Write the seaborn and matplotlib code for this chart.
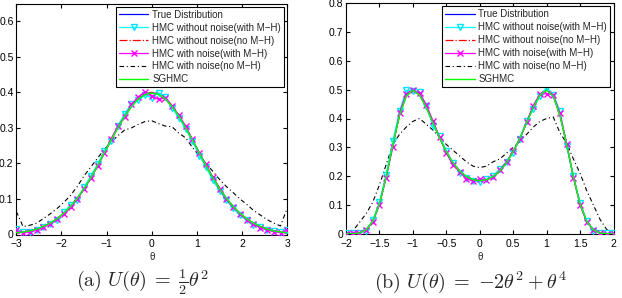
import numpy as np
import pandas as pd
import matplotlib
matplotlib.use("Agg")
import matplotlib.pyplot as plt
import seaborn as sns

sns.set_style("ticks")
plt.rcParams['font.family'] = ['Liberation Sans', 'DejaVu Sans']
plt.rcParams['mathtext.fontset'] = 'cm'
plt.rcParams['axes.unicode_minus'] = True

labels = ["True Distribution", "HMC without noise(with M\u2212H)", "HMC without noise(no M\u2212H)",
          "HMC with noise(with M\u2212H)", "HMC with noise(no M\u2212H)", "SGHMC"]

# ---- panel (a) ----
theta_a = [-3.0, -2.85, -2.7, -2.55, -2.4, -2.25, -2.1, -1.95, -1.8, -1.65, -1.5, -1.35, -1.2, -1.05,
           -0.9, -0.75, -0.6, -0.45, -0.3, -0.15, 0.0, 0.15, 0.3, 0.45, 0.6, 0.75, 0.9, 1.05, 1.2,
           1.35, 1.5, 1.65, 1.8, 1.95, 2.1, 2.25, 2.4, 2.55, 2.7, 2.85, 3.0]
true_a = [0.004, 0.007, 0.010, 0.015, 0.022, 0.032, 0.044, 0.060, 0.079, 0.102, 0.130, 0.160, 0.194, 0.230,
          0.266, 0.301, 0.333, 0.361, 0.381, 0.395, 0.399, 0.395, 0.381, 0.361, 0.333, 0.301, 0.266, 0.230,
          0.194, 0.160, 0.130, 0.102, 0.079, 0.060, 0.044, 0.032, 0.022, 0.015, 0.010, 0.007, 0.004]
hmc_mh_a = [0.016, 0.006, 0.008, 0.013, 0.020, 0.030, 0.041, 0.062, 0.083, 0.098, 0.133, 0.165, 0.198, 0.236,
            0.262, 0.306, 0.340, 0.368, 0.378, 0.392, 0.385, 0.398, 0.388, 0.356, 0.328, 0.296, 0.262, 0.222,
            0.190, 0.152, 0.123, 0.096, 0.074, 0.055, 0.040, 0.028, 0.020, 0.012, 0.009, 0.006, 0.014]
hmc_nomh_a = [0.005, 0.006, 0.010, 0.016, 0.023, 0.031, 0.045, 0.059, 0.080, 0.103, 0.128, 0.161, 0.195, 0.231,
              0.264, 0.303, 0.335, 0.360, 0.383, 0.397, 0.400, 0.398, 0.386, 0.362, 0.331, 0.302, 0.265, 0.231,
              0.193, 0.161, 0.131, 0.101, 0.080, 0.059, 0.045, 0.031, 0.023, 0.016, 0.010, 0.006, 0.005]
noise_mh_a = [0.012, 0.004, 0.007, 0.012, 0.021, 0.029, 0.045, 0.057, 0.076, 0.100, 0.127, 0.158, 0.192, 0.228,
              0.270, 0.305, 0.331, 0.366, 0.387, 0.402, 0.390, 0.380, 0.385, 0.362, 0.336, 0.305, 0.268, 0.228,
              0.197, 0.162, 0.128, 0.099, 0.078, 0.058, 0.042, 0.030, 0.019, 0.013, 0.008, 0.005, 0.012]
noise_nomh_a = [0.065, 0.022, 0.026, 0.032, 0.045, 0.058, 0.073, 0.090, 0.110, 0.135, 0.165, 0.190, 0.215, 0.240,
                0.260, 0.278, 0.294, 0.300, 0.310, 0.318, 0.320, 0.312, 0.305, 0.303, 0.285, 0.272, 0.245, 0.222,
                0.200, 0.178, 0.155, 0.135, 0.118, 0.100, 0.085, 0.068, 0.055, 0.042, 0.032, 0.024, 0.075]
sghmc_a = [0.005, 0.007, 0.010, 0.015, 0.023, 0.032, 0.044, 0.060, 0.079, 0.102, 0.129, 0.160, 0.194, 0.230,
           0.266, 0.300, 0.333, 0.360, 0.381, 0.394, 0.398, 0.394, 0.381, 0.360, 0.333, 0.300, 0.266, 0.230,
           0.194, 0.160, 0.129, 0.102, 0.079, 0.060, 0.044, 0.032, 0.023, 0.015, 0.010, 0.007, 0.005]

# ---- panel (b) ----
theta_b = [-2.0, -1.9, -1.8, -1.7, -1.6, -1.5, -1.4, -1.3, -1.2, -1.1, -1.0, -0.9, -0.8, -0.7, -0.6, -0.5,
           -0.4, -0.3, -0.2, -0.1, 0.0, 0.1, 0.2, 0.3, 0.4, 0.5, 0.6, 0.7, 0.8, 0.9, 1.0, 1.1, 1.2, 1.3,
           1.4, 1.5, 1.6, 1.7, 1.8, 1.9, 2.0]
true_b = [0.000, 0.001, 0.003, 0.014, 0.044, 0.105, 0.199, 0.310, 0.412, 0.478, 0.500, 0.482, 0.439, 0.385,
          0.332, 0.285, 0.247, 0.218, 0.199, 0.188, 0.184, 0.188, 0.199, 0.218, 0.247, 0.285, 0.332, 0.385,
          0.439, 0.482, 0.500, 0.478, 0.412, 0.310, 0.199, 0.105, 0.044, 0.014, 0.003, 0.001, 0.000]
hmc_mh_b = [0.002, 0.002, 0.004, 0.012, 0.047, 0.110, 0.205, 0.322, 0.425, 0.498, 0.495, 0.493, 0.445, 0.375,
            0.340, 0.288, 0.245, 0.212, 0.195, 0.185, 0.180, 0.190, 0.202, 0.225, 0.250, 0.282, 0.330, 0.392,
            0.432, 0.478, 0.508, 0.483, 0.425, 0.305, 0.200, 0.108, 0.046, 0.012, 0.004, 0.002, 0.003]
hmc_nomh_b = [0.000, 0.001, 0.004, 0.015, 0.045, 0.103, 0.201, 0.312, 0.410, 0.480, 0.502, 0.480, 0.442, 0.388,
              0.335, 0.283, 0.246, 0.220, 0.197, 0.190, 0.186, 0.187, 0.201, 0.216, 0.249, 0.286, 0.330, 0.387,
              0.440, 0.484, 0.497, 0.480, 0.410, 0.312, 0.198, 0.106, 0.043, 0.015, 0.004, 0.001, 0.000]
noise_mh_b = [0.001, 0.002, 0.005, 0.015, 0.042, 0.100, 0.195, 0.300, 0.420, 0.485, 0.498, 0.488, 0.448, 0.392,
              0.335, 0.280, 0.240, 0.215, 0.192, 0.183, 0.190, 0.186, 0.196, 0.222, 0.250, 0.288, 0.328, 0.388,
              0.445, 0.485, 0.486, 0.482, 0.418, 0.312, 0.195, 0.100, 0.040, 0.015, 0.004, 0.001, 0.001]
noise_nomh_b = [0.000, 0.010, 0.040, 0.070, 0.110, 0.170, 0.240, 0.310, 0.345, 0.370, 0.390, 0.400, 0.380, 0.360,
                0.335, 0.310, 0.290, 0.270, 0.250, 0.235, 0.230, 0.235, 0.250, 0.260, 0.280, 0.300, 0.320, 0.345,
                0.370, 0.390, 0.400, 0.405, 0.350, 0.315, 0.260, 0.210, 0.150, 0.100, 0.050, 0.015, 0.000]
sghmc_b = [0.000, 0.001, 0.003, 0.014, 0.044, 0.104, 0.198, 0.308, 0.410, 0.477, 0.498, 0.481, 0.438, 0.385,
           0.332, 0.285, 0.247, 0.218, 0.199, 0.188, 0.185, 0.188, 0.199, 0.218, 0.247, 0.285, 0.332, 0.385,
           0.438, 0.481, 0.498, 0.477, 0.410, 0.308, 0.198, 0.104, 0.044, 0.014, 0.003, 0.001, 0.000]

styles = [
    dict(color="#0000ff", linestyle="-", lw=0.9, zorder=2),
    dict(color="#00ffff", linestyle="-", lw=0.9, marker="v", markersize=5.0, markerfacecolor="none",
         markeredgecolor="#00e5ff", markeredgewidth=1.0, zorder=3),
    dict(color="#ff0000", linestyle="-.", lw=0.9, zorder=2.5),
    dict(color="#ff00ff", linestyle="-", lw=0.9, marker="x", markersize=4.0, markeredgecolor="#ff00ff",
         markeredgewidth=1.0, zorder=3.2),
    dict(color="#000000", linestyle=(0, (4, 2.5, 1, 2.5)), lw=0.8, zorder=2.6),
    dict(color="#00ff00", linestyle="-", lw=1.0, zorder=3.5),
]

fig = plt.figure(figsize=(6.22, 2.98), dpi=100)
ax_a = fig.add_axes([16.3 / 622, 1 - 234.5 / 298, (287.3 - 16.3) / 622, (234.5 - 3.5) / 298])
ax_b = fig.add_axes([346 / 622, 1 - 234 / 298, (613.5 - 346) / 622, (234 - 3) / 298])


def draw(ax, x, series, xlim, ylim, xticks, yticks, xticklabels, yticklabels):
    df = pd.DataFrame({"theta": x})
    handles = []
    for name, vals, st in zip(labels, series, styles):
        df[name] = vals
        sns.lineplot(data=df, x="theta", y=name, ax=ax, estimator=None, sort=False, **st)
        handles.append(ax.get_lines()[-1])
    ax.set_xlim(*xlim)
    ax.set_ylim(*ylim)
    ax.set_xticks(xticks)
    ax.set_xticklabels(xticklabels)
    ax.set_yticks(yticks)
    ax.set_yticklabels(yticklabels)
    ax.set_xlabel("\u03b8", fontsize=7, labelpad=2)
    ax.set_ylabel("")
    ax.tick_params(direction="in", length=3, width=0.8, labelsize=7.5, pad=2,
                   top=True, right=True, colors="black")
    ax.tick_params(axis="x", pad=3.5)
    for s in ax.spines.values():
        s.set_visible(True)
        s.set_linewidth(0.8)
        s.set_color("black")
    leg = ax.legend(handles, labels, loc="upper right", fontsize=7, frameon=True, fancybox=False,
                    edgecolor="black", framealpha=1, borderpad=0.3, labelspacing=0.3,
                    handlelength=3.0, handletextpad=0.4, borderaxespad=0.35, numpoints=1)
    leg.get_frame().set_linewidth(0.8)
    leg.set_zorder(10)


draw(ax_a, theta_a, [true_a, hmc_mh_a, hmc_nomh_a, noise_mh_a, noise_nomh_a, sghmc_a],
     (-3, 3), (0, 0.65), [-3, -2, -1, 0, 1, 2, 3], [0, 0.1, 0.2, 0.3, 0.4, 0.5, 0.6],
     ["\u22123", "\u22122", "\u22121", "0", "1", "2", "3"],
     ["0", "0.1", "0.2", "0.3", "0.4", "0.5", "0.6"])
draw(ax_b, theta_b, [true_b, hmc_mh_b, hmc_nomh_b, noise_mh_b, noise_nomh_b, sghmc_b],
     (-2, 2), (0, 0.8), [-2, -1.5, -1, -0.5, 0, 0.5, 1, 1.5, 2],
     [0, 0.1, 0.2, 0.3, 0.4, 0.5, 0.6, 0.7, 0.8],
     ["\u22122", "\u22121.5", "\u22121", "\u22120.5", "0", "0.5", "1", "1.5", "2"],
     ["0", "0.1", "0.2", "0.3", "0.4", "0.5", "0.6", "0.7", "0.8"])

fig.text(142 / 622, 1 - 282 / 298, r"$\mathrm{(a)}\ U(\theta)\;=\;\frac{1}{2}\theta^2$",
         ha="center", va="center", fontsize=14.5)
fig.text(471 / 622, 1 - 282 / 298, r"$\mathrm{(b)}\ U(\theta)\;=\;{-}2\theta^2+\theta^4$",
         ha="center", va="center", fontsize=14.5)

fig.savefig("out.png", dpi=100)
